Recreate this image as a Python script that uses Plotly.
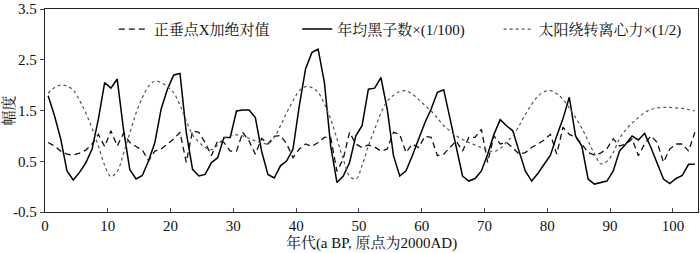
import plotly.graph_objects as go

# x positions (decades, a BP)
decade = [i + 0.5 for i in range(104)]

# 正垂点X加绝对值 (dashed)
zenith_abs = [0.87, 0.80, 0.70, 0.64, 0.62, 0.66, 0.72, 0.84, 1.03, 0.79,
              1.10, 0.80, 1.05, 0.87, 0.79, 0.72, 0.51, 0.70, 0.74, 0.84,
              0.94, 1.07, 0.48, 1.10, 1.07, 0.87, 0.61, 0.90, 0.87, 0.70,
              0.70, 1.07, 0.90, 0.64, 0.95, 0.84, 0.99, 1.01, 0.84, 0.57,
              0.74, 0.84, 0.79, 0.87, 0.97, 0.97, 0.30, 0.55, 1.07, 0.84,
              0.77, 0.82, 0.78, 0.70, 0.74, 1.07, 1.03, 0.67, 0.84, 0.77,
              0.99, 0.97, 0.61, 0.64, 0.77, 0.90, 0.70, 0.97, 0.97, 1.13,
              0.48, 1.00, 0.84, 0.87, 0.77, 0.64, 0.67, 0.77, 0.84, 0.92,
              1.03, 0.64, 1.17, 1.03, 0.97, 0.84, 0.67, 0.62, 0.66, 0.75,
              0.94, 0.80, 0.84, 0.94, 0.61, 0.84, 1.00, 0.87, 0.48, 0.74,
              0.84, 0.84, 0.70, 1.07]

# 年均黑子数×(1/100) (solid)
sunspot = [1.79, 1.40, 0.94, 0.31, 0.13, 0.28, 0.47, 0.74, 1.33, 2.05,
           1.94, 2.12, 1.13, 0.34, 0.15, 0.22, 0.51, 0.87, 1.53, 1.92,
           2.20, 2.23, 1.07, 0.34, 0.21, 0.24, 0.47, 0.57, 0.97, 0.97,
           1.49, 1.51, 1.51, 1.36, 0.70, 0.24, 0.17, 0.41, 0.51, 0.74,
           1.59, 2.32, 2.64, 2.71, 2.05, 0.80, 0.08, 0.21, 0.47, 1.00,
           1.20, 1.92, 1.94, 2.15, 1.53, 0.61, 0.21, 0.31, 0.61, 0.94,
           1.26, 1.53, 1.86, 1.91, 1.33, 0.74, 0.21, 0.11, 0.16, 0.31,
           0.64, 1.03, 1.32, 1.20, 1.10, 0.70, 0.31, 0.11, 0.26, 0.44,
           0.62, 1.00, 1.34, 1.76, 1.00, 0.80, 0.15, 0.05, 0.08, 0.11,
           0.31, 0.70, 0.84, 1.00, 0.92, 1.05, 0.77, 0.47, 0.15, 0.06,
           0.16, 0.22, 0.44, 0.44]

# 太阳绕转离心力×(1/2) (dotted)
solar_force = [1.84, 1.95, 2.00, 1.98, 1.90, 1.70, 1.45, 1.15, 0.80, 0.42,
               0.20, 0.30, 0.65, 1.05, 1.45, 1.75, 1.98, 2.08, 2.05, 1.97,
               1.85, 1.60, 1.30, 1.02, 0.88, 0.77, 0.73, 0.82, 0.95, 1.00,
               1.02, 1.00, 0.95, 0.90, 0.87, 0.84, 0.97, 1.20, 1.46, 1.69,
               1.89, 1.97, 1.95, 1.86, 1.63, 1.33, 0.94, 0.54, 0.21, 0.15,
               0.41, 0.80, 1.13, 1.45, 1.68, 1.80, 1.87, 1.89, 1.82, 1.72,
               1.60, 1.49, 1.35, 1.20, 1.10, 1.00, 0.93, 0.87, 0.82, 0.77,
               0.72, 0.69, 0.75, 0.88, 1.00, 1.20, 1.42, 1.62, 1.78, 1.87,
               1.89, 1.83, 1.72, 1.55, 1.36, 1.15, 0.90, 0.65, 0.45, 0.50,
               0.67, 0.95, 1.12, 1.25, 1.36, 1.46, 1.52, 1.55, 1.56, 1.56,
               1.55, 1.54, 1.52, 1.49]

x_ticks = [0, 10, 20, 30, 40, 50, 60, 70, 80, 90, 100]
y_ticks = [-0.5, 0.5, 1.5, 2.5, 3.5]

FONT = "Liberation Serif, Times New Roman, Noto Serif CJK SC, Noto Sans CJK SC, serif"

L, R, T, B = 44, 1, 9, 41
W, H = 700, 253
PW = W - L - R


def px2paper(px):
    return (px - L) / PW


fig = go.Figure()
fig.add_trace(go.Scatter(x=decade, y=zenith_abs, mode="lines", name="正垂点X加绝对值",
                         legend="legend",
                         line=dict(color="#111", width=1.3, dash="6px,4px")))
fig.add_trace(go.Scatter(x=decade, y=sunspot, mode="lines", name="年均黑子数×(1/100)",
                         legend="legend2",
                         line=dict(color="#000", width=1.5)))
fig.add_trace(go.Scatter(x=decade, y=solar_force, mode="lines", name="太阳绕转离心力×(1/2)",
                         legend="legend3",
                         line=dict(color="#555", width=1.2, dash="dot", shape="spline")))

leg_common = dict(orientation="h", yanchor="middle", y=0.9,
                  bgcolor="rgba(0,0,0,0)", borderwidth=0,
                  font=dict(size=15, family=FONT, color="#111"), xanchor="left")

fig.update_layout(
    width=W, height=H,
    margin=dict(l=L, r=R, t=T, b=B),
    paper_bgcolor="white", plot_bgcolor="white",
    font=dict(family=FONT, size=15, color="#111"),
    showlegend=True,
    legend=dict(x=px2paper(113), **leg_common),
    legend2=dict(x=px2paper(297), **leg_common),
    legend3=dict(x=px2paper(499), **leg_common),
    xaxis=dict(range=[0, 104], tickvals=x_ticks, ticks="inside", ticklen=4,
               showline=True, linecolor="#222", linewidth=1.3, mirror=True,
               showgrid=False, zeroline=False,
               title=dict(text="年代(a BP, 原点为2000AD)", standoff=2,
                          font=dict(size=15, family=FONT))),
    yaxis=dict(range=[-0.5, 3.5], tickvals=y_ticks, ticktext=["-0.5", "0.5", "1.5", "2.5", "3.5"],
               ticks="outside", ticklen=4,
               showline=True, linecolor="#222", linewidth=1.3, mirror=True,
               showgrid=False, zeroline=False,
               title=dict(text="幅度", standoff=2, font=dict(size=15, family=FONT))),
)

fig.write_html("out.html", config={"displayModeBar": False},
               post_script="document.body.style.margin='0px';")
